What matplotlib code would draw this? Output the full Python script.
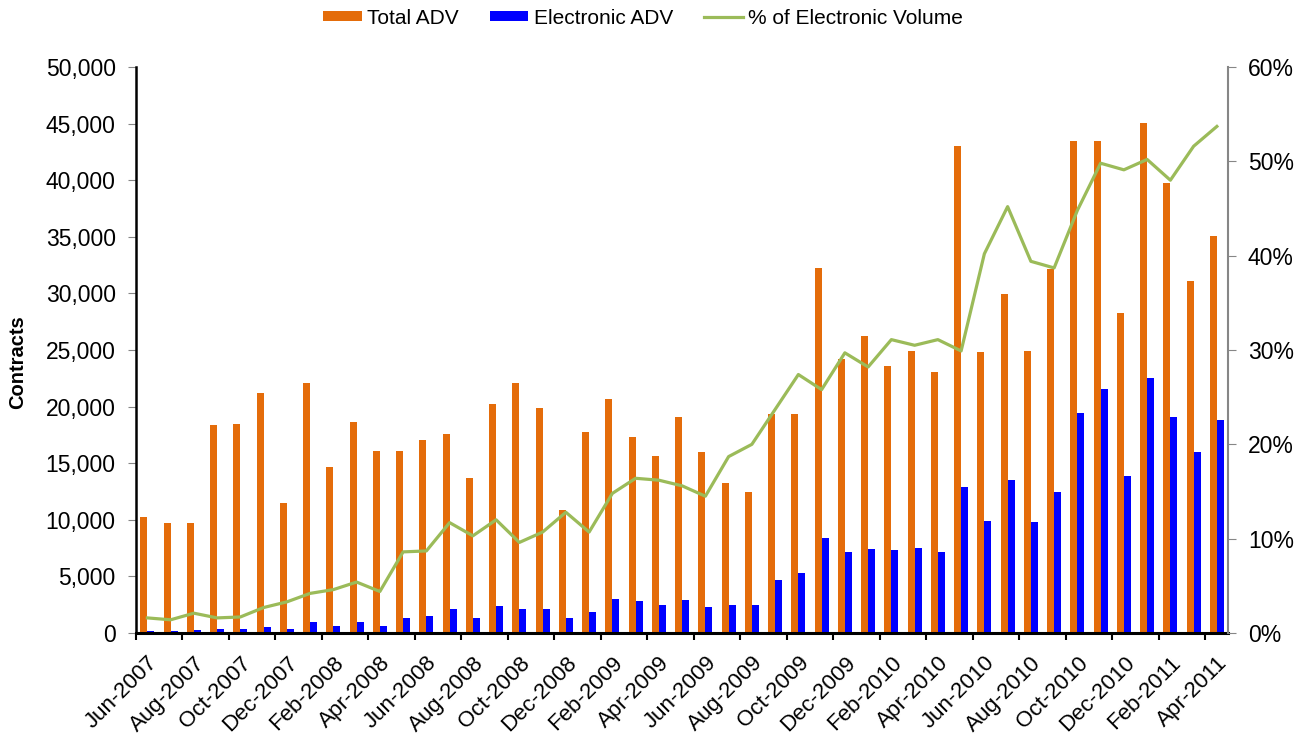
import numpy as np
import pandas as pd
import matplotlib
matplotlib.use("Agg")
import matplotlib.pyplot as plt
from matplotlib.ticker import FuncFormatter, MultipleLocator

plt.rcParams['font.family'] = ['Liberation Sans', 'DejaVu Sans']

# monthly categories Jun-2007 .. Apr-2011
months = pd.date_range("2007-06-01", "2011-04-01", freq="MS").strftime("%b-%Y").tolist()

total_adv = [10220, 9690, 9690, 18350, 18460, 21200, 11460, 22060, 14640, 18640, 16080, 16080,
             17020, 17610, 13690, 20200, 22060, 19880, 10840, 17730, 20700, 17290, 15640, 19050,
             15960, 13280, 12460, 19350, 19350, 32240, 24180, 26240, 23560, 24910, 23060, 43040,
             24810, 29960, 24910, 32180, 43440, 43440, 28290, 45080, 39730, 31090, 35070]
electronic_adv = [180, 180, 290, 380, 380, 560, 380, 1000, 650, 1000, 650, 1360,
                  1475, 2090, 1360, 2385, 2090, 2090, 1360, 1880, 3000, 2830, 2470, 2915,
                  2300, 2500, 2500, 4650, 5270, 8360, 7130, 7450, 7330, 7540, 7130, 12870,
                  9910, 13500, 9790, 12460, 19430, 21530, 13900, 22570, 19060, 15960, 18850]
pct_electronic = [1.6, 1.4, 2.1, 1.6, 1.7, 2.7, 3.3, 4.2, 4.6, 5.4, 4.4, 8.6,
                  8.7, 11.7, 10.3, 12.0, 9.6, 10.7, 12.8, 10.7, 14.8, 16.4, 16.2, 15.6,
                  14.5, 18.7, 20.0, 23.7, 27.4, 25.8, 29.7, 28.2, 31.1, 30.5, 31.1, 29.9,
                  40.2, 45.2, 39.4, 38.7, 44.8, 49.8, 49.1, 50.2, 48.0, 51.6, 53.7]

orange = '#E46C0A'
blue = '#0000FF'
green = '#9BBB59'
grey = '#868686'

x = np.arange(len(months))
w = 0.3

fig = plt.figure(figsize=(13.09, 7.42), dpi=100)
ax = fig.add_axes([0.1037, 0.1469, 0.8348, 0.7628])
ax2 = ax.twinx()

b1 = ax.bar(x - w / 2, total_adv, w, color=orange, label='Total ADV', zorder=2)
b2 = ax.bar(x + w / 2, electronic_adv, w, color=blue, label='Electronic ADV', zorder=2)
l1, = ax2.plot(x, pct_electronic, color=green, lw=2.3, label='% of Electronic Volume')

ax.set_xlim(-0.5, len(months) - 0.5)
ax.set_ylim(0, 50000)
ax2.set_ylim(0, 60)
ax.yaxis.set_major_locator(MultipleLocator(5000))
ax.yaxis.set_major_formatter(FuncFormatter(lambda v, p: f"{int(v):,}"))
ax2.yaxis.set_major_locator(MultipleLocator(10))
ax2.yaxis.set_major_formatter(FuncFormatter(lambda v, p: f"{int(v)}%"))

ax.set_xticks(x[::2])
ax.set_xticklabels(months[::2], rotation=45, ha='right', rotation_mode='anchor', fontsize=16)
ax.set_xticks(np.arange(-0.5, len(months), 2), minor=True)
ax.tick_params(axis='x', which='major', length=0, pad=14)
ax.tick_params(axis='x', which='minor', length=5, width=1.5, color='black', direction='out')
ax.tick_params(axis='y', labelsize=16.5, length=5.5, color=grey, pad=9)
ax2.tick_params(axis='y', labelsize=16.5, length=6, color=grey, pad=8)

ax.spines['top'].set_visible(False)
ax2.spines['top'].set_visible(False)
ax.spines['left'].set_linewidth(1.8)
ax.spines['bottom'].set_linewidth(2.2)
ax2.spines['left'].set_visible(False)
ax2.spines['bottom'].set_visible(False)
ax.spines['right'].set_visible(False)
ax2.spines['right'].set_color(grey)
ax2.spines['right'].set_linewidth(1.5)

fig.text(18 / 1309, 1 - 362 / 742, 'Contracts', rotation=90, ha='center', va='center',
         fontsize=14.5, fontweight='bold')

fig.legend([b1, b2, l1], ['Total ADV', 'Electronic ADV', '% of Electronic Volume'],
           loc='center', bbox_to_anchor=(643 / 1309, 1 - 18 / 742), ncol=3, frameon=False,
           fontsize=15, handlelength=1.85, handleheight=0.4, handletextpad=0.25,
           columnspacing=1.5)

fig.savefig('out.png', dpi=100)
